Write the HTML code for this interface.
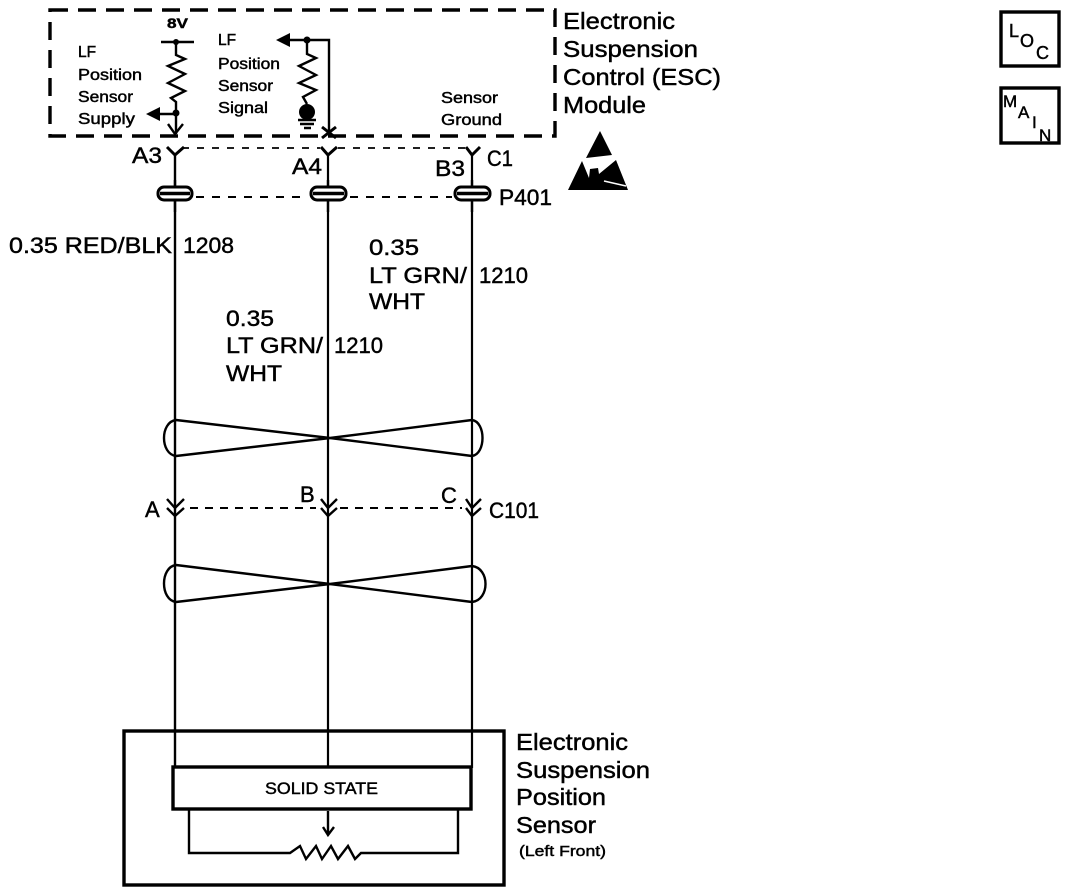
<!DOCTYPE html>
<html>
<head>
<meta charset="utf-8">
<style>
html,body{margin:0;padding:0;background:#fff}
svg{display:block}
text{font-family:"Liberation Sans",sans-serif;fill:#000;stroke:#000;stroke-width:.45px}
.l{font-size:23px}
.s{font-size:15.500px}
.c{font-size:22px}
.w{fill:none;stroke:#000;stroke-width:2.4}
.t{fill:none;stroke:#000;stroke-width:3}
</style>
</head>
<body>
<svg width="1088" height="894" viewBox="0 0 1088 894" xmlns="http://www.w3.org/2000/svg">
<rect width="1088" height="894" fill="#fff"/>

<!-- Module dashed box -->
<path d="M50 10H555V136H50Z" fill="none" stroke="#000" stroke-width="3.4" stroke-dasharray="18 10"/>

<!-- Module interior left -->
<path class="w" d="M161 42H194"/>
<circle cx="176" cy="42" r="3"/>
<path class="w" d="M176 42V55L185 59 168 66 185 74 168 83 185 91 171 98 176 102V134"/>
<path d="M146 114L160 107V121Z"/>
<path class="w" d="M156 114H176"/>
<circle cx="176" cy="113" r="3.500"/>
<path class="w" d="M168 124L175 134 183 124"/>

<!-- Module interior right -->
<path d="M276 40L290 33V47Z"/>
<path class="w" d="M286 40H329V132"/>
<circle cx="307" cy="40" r="3.500"/>
<path class="w" d="M307 40V54L316 58 299 66 316 75 299 83 316 90 303 97 307 104"/>
<circle cx="307" cy="112" r="8"/>
<path class="w" d="M298 120H316M300 124H314M304 128H311"/>
<path class="t" d="M322 127L336 138M336 127L322 138"/>

<!-- Upper connector dashes -->
<path d="M182 148H320M338 148H466" fill="none" stroke="#000" stroke-width="1.800" stroke-dasharray="7 8"/>
<path class="t" d="M167 147L175 155 184 147M321 147L328 155 337 147M466 147L472 155 480 147"/>

<!-- Wires -->
<path class="w" d="M175 155V768"/>
<path class="w" style="stroke-width:2.200" d="M328 155V768"/>
<path class="w" style="stroke-width:2.200" d="M472 155V768"/>

<!-- P401 connector -->
<g fill="#fff" stroke="#000" stroke-width="3">
<rect x="158" y="187" width="34" height="13" rx="6"/>
<rect x="311" y="187" width="35" height="13" rx="6"/>
<rect x="455" y="187" width="35" height="13" rx="6"/>
</g>
<path d="M160 193.500H190M313 193.500H344M457 193.500H488" stroke="#000" stroke-width="3.500"/>
<path d="M175 180V187M328 180V187M472 180V187M175 200V212M328 200V212M472 200V212" stroke="#000" stroke-width="2.400"/>
<path d="M196 197H308M350 197H452" fill="none" stroke="#000" stroke-width="2" stroke-dasharray="8 8"/>

<!-- Upper twist -->
<path class="w" d="M176 420L330 438 472 456C486 454 486 422 472 420L330 438 176 456C160 454 160 422 176 420Z" stroke-linejoin="round"/>

<!-- C101 connector -->
<path class="w" d="M167 499L175 508 184 499M167 508L175 516 184 508M321 499L328 508 337 499M321 508L328 516 337 508M466 499L472 508 481 499M466 508L472 516 481 508"/>
<path d="M190 508H316M340 508H462" fill="none" stroke="#000" stroke-width="2" stroke-dasharray="8 7"/>

<!-- Lower twist -->
<path class="w" d="M176 565L330 584 472 602C490 600 490 568 472 566L330 584 176 602C160 600 160 567 176 565Z" stroke-linejoin="round"/>

<!-- Sensor -->
<rect x="124" y="731" width="380" height="154" fill="none" stroke="#000" stroke-width="3.400"/>
<rect x="173" y="767" width="298" height="42" fill="#fff" stroke="#000" stroke-width="3.400"/>
<path class="w" d="M189 810V853H290L300 846 306 859 316 846 322 859 331 846 338 859 348 846 355 859 361 853H458V810"/>
<path class="w" d="M328 811V835M323 827L328 835 334 827"/>

<!-- ESD symbol -->
<path d="M600 131L612 155 586 158Z"/>
<path d="M582 161L568 190H628L616 160 599 174 598 168 590 169 589 178Z"/>
<path d="M604 181L626 186" stroke="#fff" stroke-width="1.500"/>

<!-- Right boxes -->
<rect x="1001" y="12" width="58" height="54" fill="none" stroke="#000" stroke-width="3.400"/>
<rect x="1001" y="88" width="58" height="55" fill="none" stroke="#000" stroke-width="3.400"/>

<!-- Labels: module -->
<text x="167" y="28" textLength="21" lengthAdjust="spacingAndGlyphs" style="font-size:14px;font-weight:bold">8V</text>
<text class="s" x="78" y="57">LF</text>
<text class="s" x="78" y="80" textLength="64" lengthAdjust="spacingAndGlyphs">Position</text>
<text class="s" x="78" y="102" textLength="55" lengthAdjust="spacingAndGlyphs">Sensor</text>
<text class="s" x="78" y="124" textLength="57" lengthAdjust="spacingAndGlyphs">Supply</text>
<text class="s" x="218" y="45">LF</text>
<text class="s" x="218" y="69" textLength="62" lengthAdjust="spacingAndGlyphs">Position</text>
<text class="s" x="218" y="91" textLength="55" lengthAdjust="spacingAndGlyphs">Sensor</text>
<text class="s" x="218" y="113" textLength="50" lengthAdjust="spacingAndGlyphs">Signal</text>
<text class="s" x="441" y="103" textLength="57" lengthAdjust="spacingAndGlyphs">Sensor</text>
<text class="s" x="441" y="125" textLength="61" lengthAdjust="spacingAndGlyphs">Ground</text>

<text class="l" x="563" y="29" textLength="112" lengthAdjust="spacingAndGlyphs">Electronic</text>
<text class="l" x="563" y="57" textLength="135" lengthAdjust="spacingAndGlyphs">Suspension</text>
<text class="l" x="563" y="85" textLength="158" lengthAdjust="spacingAndGlyphs">Control (ESC)</text>
<text class="l" x="563" y="113" textLength="83" lengthAdjust="spacingAndGlyphs">Module</text>

<!-- Pin labels -->
<text class="c" x="132" y="163" textLength="30" lengthAdjust="spacingAndGlyphs">A3</text>
<text class="c" x="292" y="174" textLength="30" lengthAdjust="spacingAndGlyphs">A4</text>
<text class="c" x="435" y="176" textLength="30" lengthAdjust="spacingAndGlyphs">B3</text>
<text class="c" x="487" y="166" textLength="26" lengthAdjust="spacingAndGlyphs">C1</text>
<text class="c" x="499" y="205" textLength="53" lengthAdjust="spacingAndGlyphs">P401</text>

<!-- Wire labels -->
<text class="c" x="9" y="253" textLength="163" lengthAdjust="spacingAndGlyphs">0.35 RED/BLK</text>
<text class="c" x="183" y="253" textLength="51" lengthAdjust="spacingAndGlyphs">1208</text>
<text class="c" x="369" y="255" textLength="50" lengthAdjust="spacingAndGlyphs">0.35</text>
<text class="c" x="369" y="283" textLength="98" lengthAdjust="spacingAndGlyphs">LT GRN/</text>
<text class="c" x="479" y="283" textLength="49" lengthAdjust="spacingAndGlyphs">1210</text>
<text class="c" x="369" y="309" textLength="56" lengthAdjust="spacingAndGlyphs">WHT</text>
<text class="c" x="226" y="326" textLength="48" lengthAdjust="spacingAndGlyphs">0.35</text>
<text class="c" x="226" y="353" textLength="97" lengthAdjust="spacingAndGlyphs">LT GRN/</text>
<text class="c" x="334" y="353" textLength="49" lengthAdjust="spacingAndGlyphs">1210</text>
<text class="c" x="226" y="381" textLength="56" lengthAdjust="spacingAndGlyphs">WHT</text>

<!-- C101 labels -->
<text class="c" x="145" y="517">A</text>
<text class="c" x="300" y="502">B</text>
<text class="c" x="441" y="503">C</text>
<text class="c" x="489" y="518" textLength="50" lengthAdjust="spacingAndGlyphs">C101</text>

<!-- Sensor labels -->
<text x="265" y="794" textLength="113" lengthAdjust="spacingAndGlyphs" style="font-size:16.500px">SOLID STATE</text>
<text class="l" x="516" y="750" textLength="112" lengthAdjust="spacingAndGlyphs">Electronic</text>
<text class="l" x="516" y="778" textLength="134" lengthAdjust="spacingAndGlyphs">Suspension</text>
<text class="l" x="516" y="805" textLength="90" lengthAdjust="spacingAndGlyphs">Position</text>
<text class="l" x="516" y="833" textLength="80" lengthAdjust="spacingAndGlyphs">Sensor</text>
<text x="519" y="856" textLength="87" lengthAdjust="spacingAndGlyphs" style="font-size:14.500px">(Left Front)</text>

<!-- LOC / MAIN -->
<text x="1009" y="37" style="font-size:18px">L</text>
<text x="1020" y="47" style="font-size:18px">O</text>
<text x="1036" y="59" style="font-size:18px">C</text>
<text x="1003" y="107" style="font-size:17px">M</text>
<text x="1018" y="118" style="font-size:17px">A</text>
<text x="1032" y="128" style="font-size:17px">I</text>
<text x="1039" y="141" style="font-size:17px">N</text>
</svg>
</body>
</html>
